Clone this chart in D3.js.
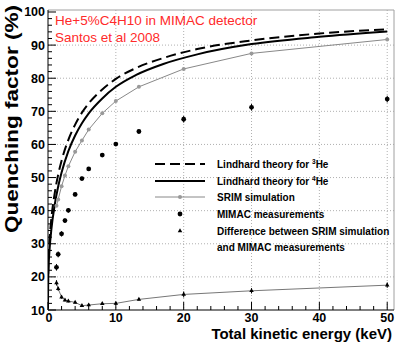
<!DOCTYPE html>
<html>
<head>
<meta charset="utf-8">
<script src="https://cdn.jsdelivr.net/npm/d3@7"></script>
<style>
  body { margin: 0; background: #fff; }
  svg { display: block; font-family: "Liberation Sans", Arial, sans-serif; }
</style>
</head>
<body>
<div id="chart"></div>
<script>
// Lindhard curves
const lindhardE = [0.0005, 0.005, 0.02, 0.1, 0.25, 0.5, 1, 1.5, 2, 3, 4, 5, 6, 8, 10, 13, 17, 22, 30, 40, 50];
const lindhard3He = [11.8, 16.3, 20.0, 26.3, 31.8, 37.7, 45.4, 50.9, 55.1, 61.4, 66.0, 69.6, 72.4, 76.6, 79.8, 83.1, 86.1, 88.8, 91.4, 93.5, 94.8];
const lindhard4He = [10.4, 14.4, 17.8, 23.6, 28.8, 34.4, 41.9, 47.3, 51.5, 58.0, 62.7, 66.4, 69.4, 73.9, 77.4, 81.0, 84.3, 87.2, 90.3, 92.5, 94.1];

// measured / simulated points
const energies = [1.25, 1.5, 2, 2.5, 3, 4, 5, 6, 8, 10, 13.4, 20, 30, 50];
const srimQF = [41.5, 43.4, 47.4, 50.6, 53.4, 57.8, 61.2, 64.5, 69.4, 73.1, 77.4, 82.8, 87.5, 91.7];
const mimacQF = [22.9, 26.8, 33.0, 37.0, 40.1, 44.9, 49.7, 52.6, 56.8, 60.1, 63.9, 67.6, 71.2, 73.7];
const mimacErr = [1.0, 0.9, 0.8, 0.7, 0.7, 0.6, 0.6, 0.6, 0.6, 0.6, 0.6, 1.0, 1.0, 1.0];
const diffQF = [18.2, 16.4, 13.9, 13.0, 12.7, 12.3, 11.3, 11.5, 11.9, 12.0, 13.2, 14.7, 15.8, 17.5];
const diffErr = [0.8, 0.6, 0.5, 0.4, 0.4, 0.4, 0.4, 0.4, 0.4, 0.4, 0.4, 0.9, 0.8, 0.8];

// axis ticks
const xTicks = [0, 10, 20, 30, 40, 50];
const yTicks = [10, 20, 30, 40, 50, 60, 70, 80, 90, 100];
const xMinor = d3.range(0, 51, 2);
const yMinor = d3.range(10, 101, 2);

const titleLines = ["He+5%C4H10 in MIMAC detector", "Santos et al 2008"];

// set the dimensions of the graph
const width = 396;
const height = 344;
const pLeft = 48, pRight = 394, pTop = 10, pBottom = 310;

const svg = d3.select("#chart")
    .append("svg")
    .attr("width", width)
    .attr("height", height);

const x = d3.scaleLinear().domain([0, 51]).range([pLeft, pRight]);
const y = d3.scaleLinear().domain([10, 100.6]).range([pBottom, pTop]);

svg.append("clipPath").attr("id", "plot")
    .append("rect")
    .attr("x", pLeft).attr("y", pTop)
    .attr("width", pRight - pLeft).attr("height", pBottom - pTop);

// grid (dotted, at the major ticks)
svg.append("g").selectAll("line")
    .data(xTicks.slice(1))
    .enter().append("line")
    .attr("x1", d => x(d)).attr("x2", d => x(d))
    .attr("y1", pTop).attr("y2", pBottom)
    .attr("stroke", "#b0b0b0").attr("stroke-dasharray", "1,2");
svg.append("g").selectAll("line")
    .data(yTicks.slice(1, -1))
    .enter().append("line")
    .attr("x1", pLeft).attr("x2", pRight)
    .attr("y1", d => y(d)).attr("y2", d => y(d))
    .attr("stroke", "#b0b0b0").attr("stroke-dasharray", "1,2");

// frame
svg.append("path")
    .attr("d", `M${pLeft},${pTop}H${pRight}V${pBottom}`)
    .attr("fill", "none").attr("stroke", "#a0a0a0");

// bottom axis, ticks pointing up
const xAxis = svg.append("g");
xAxis.append("line")
    .attr("x1", pLeft).attr("x2", pRight).attr("y1", pBottom).attr("y2", pBottom)
    .attr("stroke", "#000");
xAxis.selectAll(".minor")
    .data(xMinor)
    .enter().append("line")
    .attr("x1", d => x(d)).attr("x2", d => x(d))
    .attr("y1", pBottom).attr("y2", d => pBottom - (d % 10 === 0 ? 8 : 4))
    .attr("stroke", "#000");
xAxis.selectAll("text")
    .data(xTicks)
    .enter().append("text")
    .attr("x", d => x(d) + (d === 0 ? 1 : 0))
    .attr("y", 322)
    .attr("text-anchor", "middle")
    .attr("font-size", 12.5).attr("font-weight", "bold")
    .text(d => d);

// left axis, ticks pointing right
const yAxis = svg.append("g");
yAxis.append("line")
    .attr("x1", pLeft).attr("x2", pLeft).attr("y1", pTop).attr("y2", pBottom)
    .attr("stroke", "#000");
yAxis.selectAll(".minor")
    .data(yMinor)
    .enter().append("line")
    .attr("x1", pLeft).attr("x2", d => pLeft + (d % 10 === 0 ? 8 : 4))
    .attr("y1", d => y(d)).attr("y2", d => y(d))
    .attr("stroke", "#000");
yAxis.selectAll("text")
    .data(yTicks)
    .enter().append("text")
    .attr("x", 45)
    .attr("y", d => y(d) + 4.5)
    .attr("text-anchor", "end")
    .attr("font-size", 12.5).attr("font-weight", "bold")
    .text(d => d);

// axis titles
svg.append("text")
    .attr("x", 392).attr("y", 339)
    .attr("text-anchor", "end")
    .attr("font-size", 15).attr("font-weight", "bold")
    .text("Total kinetic energy (keV)");
svg.append("text")
    .attr("transform", "translate(18,5) rotate(-90)")
    .attr("text-anchor", "end")
    .attr("font-size", 18).attr("font-weight", "bold")
    .attr("textLength", 228).attr("lengthAdjust", "spacingAndGlyphs")
    .text("Quenching factor (%)");

// curves
const plot = svg.append("g").attr("clip-path", "url(#plot)");
const curve = d3.line()
    .x(d => x(d[0]))
    .y(d => y(d[1]))
    .curve(d3.curveMonotoneX);

plot.append("path")
    .datum(d3.zip(lindhardE, lindhard3He))
    .attr("d", curve)
    .attr("fill", "none").attr("stroke", "#000")
    .attr("stroke-width", 2).attr("stroke-dasharray", "10,5");
plot.append("path")
    .datum(d3.zip(lindhardE, lindhard4He))
    .attr("d", curve)
    .attr("fill", "none").attr("stroke", "#000").attr("stroke-width", 2);

// SRIM simulation
plot.append("path")
    .datum(d3.zip(energies, srimQF))
    .attr("d", d3.line().x(d => x(d[0])).y(d => y(d[1])))
    .attr("fill", "none").attr("stroke", "#888").attr("stroke-width", 1);
plot.selectAll(".srim")
    .data(d3.zip(energies, srimQF))
    .enter().append("circle")
    .attr("cx", d => x(d[0])).attr("cy", d => y(d[1]))
    .attr("r", 2).attr("fill", "#999");

// difference SRIM - MIMAC
plot.append("path")
    .datum(d3.zip(energies, diffQF))
    .attr("d", d3.line().x(d => x(d[0])).y(d => y(d[1])))
    .attr("fill", "none").attr("stroke", "#777").attr("stroke-width", 1);
plot.selectAll(".differr")
    .data(d3.zip(energies, diffQF, diffErr))
    .enter().append("line")
    .attr("x1", d => x(d[0])).attr("x2", d => x(d[0]))
    .attr("y1", d => y(d[1] - d[2])).attr("y2", d => y(d[1] + d[2]))
    .attr("stroke", "#000");
const tri = d3.symbol().type(d3.symbolTriangle).size(9);
plot.selectAll(".diff")
    .data(d3.zip(energies, diffQF))
    .enter().append("path")
    .attr("transform", d => `translate(${x(d[0])},${y(d[1])})`)
    .attr("d", tri)
    .attr("fill", "#000");

// MIMAC measurements
plot.selectAll(".mimacerr")
    .data(d3.zip(energies, mimacQF, mimacErr))
    .enter().append("line")
    .attr("x1", d => x(d[0])).attr("x2", d => x(d[0]))
    .attr("y1", d => y(d[1] - d[2])).attr("y2", d => y(d[1] + d[2]))
    .attr("stroke", "#000");
plot.selectAll(".mimac")
    .data(d3.zip(energies, mimacQF))
    .enter().append("circle")
    .attr("cx", d => x(d[0])).attr("cy", d => y(d[1]))
    .attr("r", 2.4).attr("fill", "#000");

// title
svg.selectAll(".title")
    .data(titleLines)
    .enter().append("text")
    .attr("x", 55).attr("y", (d, i) => 25 + i * 16.5)
    .attr("font-size", 13.5).attr("fill", "#ff2a2a")
    .text(d => d);

// legend
const lg = svg.append("g").attr("font-size", 10).attr("font-weight", "bold");
const rows = [164, 181, 197, 214, 231];
lg.append("line").attr("x1", 155).attr("x2", 205).attr("y1", rows[0]).attr("y2", rows[0])
    .attr("stroke", "#000").attr("stroke-width", 2).attr("stroke-dasharray", "10,5");
lg.append("line").attr("x1", 155).attr("x2", 205).attr("y1", rows[1]).attr("y2", rows[1])
    .attr("stroke", "#000").attr("stroke-width", 2);
lg.append("line").attr("x1", 155).attr("x2", 205).attr("y1", rows[2]).attr("y2", rows[2])
    .attr("stroke", "#888");
lg.append("circle").attr("cx", 180).attr("cy", rows[2]).attr("r", 2).attr("fill", "#999");
lg.append("circle").attr("cx", 180).attr("cy", rows[3]).attr("r", 2.4).attr("fill", "#000");
lg.append("path").attr("transform", `translate(180,${rows[4]})`).attr("d", tri).attr("fill", "#000");

const t1 = lg.append("text").attr("x", 217).attr("y", rows[0] + 4).text("Lindhard theory for ");
t1.append("tspan").attr("font-size", 6.5).attr("dy", -4).text("3");
t1.append("tspan").attr("dy", 4).text("He");
const t2 = lg.append("text").attr("x", 217).attr("y", rows[1] + 4).text("Lindhard theory for ");
t2.append("tspan").attr("font-size", 6.5).attr("dy", -4).text("4");
t2.append("tspan").attr("dy", 4).text("He");
lg.append("text").attr("x", 217).attr("y", rows[2] + 4).text("SRIM simulation");
lg.append("text").attr("x", 217).attr("y", rows[3] + 4).text("MIMAC measurements");
lg.append("text").attr("x", 217).attr("y", rows[4] + 4).text("Difference between SRIM simulation");
lg.append("text").attr("x", 217).attr("y", rows[4] + 20).text("and MIMAC measurements");
</script>
</body>
</html>
